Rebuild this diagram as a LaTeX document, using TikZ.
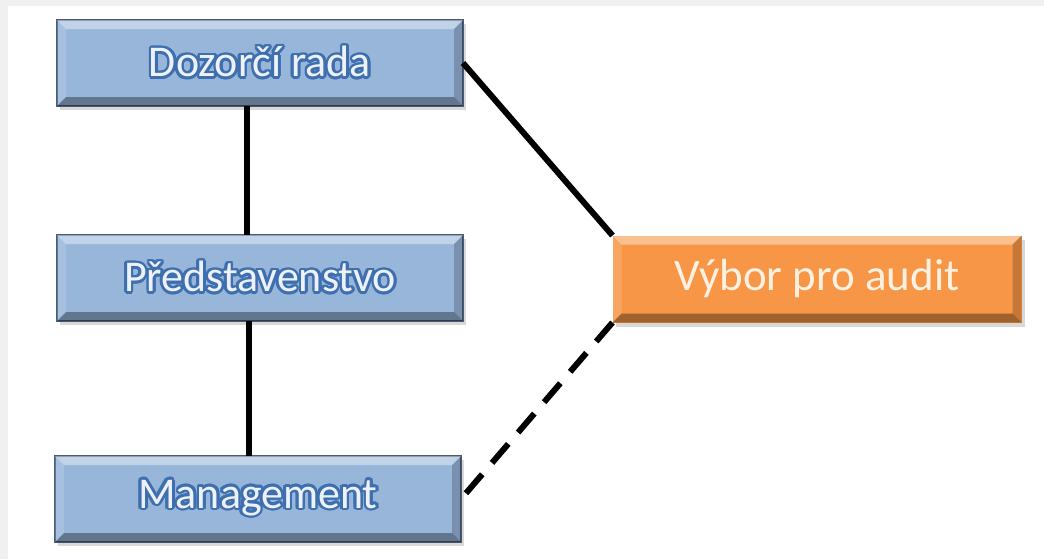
\documentclass[tikz,border=0pt]{standalone}
\usepackage{fontspec}
\setmainfont{Carlito}
\usepackage{contour}
\usetikzlibrary{shadows}
\definecolor{boxblue}{HTML}{98B6DA}
\definecolor{boxedge}{HTML}{4A5D78}
\definecolor{boxorange}{HTML}{F79646}
\definecolor{textblue}{HTML}{3E6FAF}
\definecolor{textlight}{HTML}{EEF2F8}
\definecolor{textcream}{HTML}{FDF1E2}
\definecolor{paper}{HTML}{F0F0F0}
\contourlength{0.75pt}
\def\bw{0.09}
\newcommand{\bluetext}[1]{\textcolor{textlight}{\contour{textblue}{#1}}}
% bevel bands on the edges of a box node
\newcommand{\bevel}[1]{%
  \fill[white,opacity=.4] (#1.north west) -- (#1.north east) -- ([shift={(-\bw,-\bw)}]#1.north east) -- ([shift={(\bw,-\bw)}]#1.north west) -- cycle;
  \fill[white,opacity=.15] (#1.north west) -- ([shift={(\bw,-\bw)}]#1.north west) -- ([shift={(\bw,\bw)}]#1.south west) -- (#1.south west) -- cycle;
  \fill[black,opacity=.2] (#1.north east) -- ([shift={(-\bw,-\bw)}]#1.north east) -- ([shift={(-\bw,\bw)}]#1.south east) -- (#1.south east) -- cycle;
  \fill[black,opacity=.35] (#1.south west) -- ([shift={(\bw,\bw)}]#1.south west) -- ([shift={(-\bw,\bw)}]#1.south east) -- (#1.south east) -- cycle;
}
\tikzset{
  box/.style={rectangle, minimum width=4.06cm, minimum height=0.86cm, outer sep=0pt,
    font=\fontsize{12.5}{14}\selectfont,
    drop shadow={opacity=.3, shadow xshift=.03, shadow yshift=-.04}},
  bluebox/.style={box, fill=boxblue, draw=boxedge, line width=0.6pt},
  orangebox/.style={box, minimum width=4.09cm, minimum height=0.87cm, fill=boxorange, text=textcream,
    font=\fontsize{12.8}{14}\selectfont},
  link/.style={line width=1.7pt},
}

\begin{document}
\begin{tikzpicture}
\fill[paper] (0,0) rectangle (10.44,5.59);
\fill[white] (0.08,0) rectangle (10.44,5.53);
\useasboundingbox (0,0) rectangle (10.44,5.59);

\node[bluebox] (rada) at (2.60,4.96) {\bluetext{Dozorčí rada}};
\node[bluebox] (pred) at (2.60,2.81) {\bluetext{Představenstvo}};
\node[bluebox] (man) at (2.58,0.60) {\bluetext{Management}};
\node[orangebox] (vybor) at (8.17,2.80) {Výbor pro audit};
\bevel{rada}
\bevel{pred}
\bevel{man}
\bevel{vybor}

\draw[link] ([xshift=-0.13cm]rada.south) -- ([xshift=-0.13cm]pred.north);
\draw[link] ([xshift=-0.11cm]pred.south) -- ([xshift=-0.09cm]man.north);
\draw[link] (rada.east) -- (vybor.north west);
\draw[link, dash pattern=on 0.25cm off 0.15cm] (vybor.south west) -- (man.east);
\end{tikzpicture}
\end{document}
